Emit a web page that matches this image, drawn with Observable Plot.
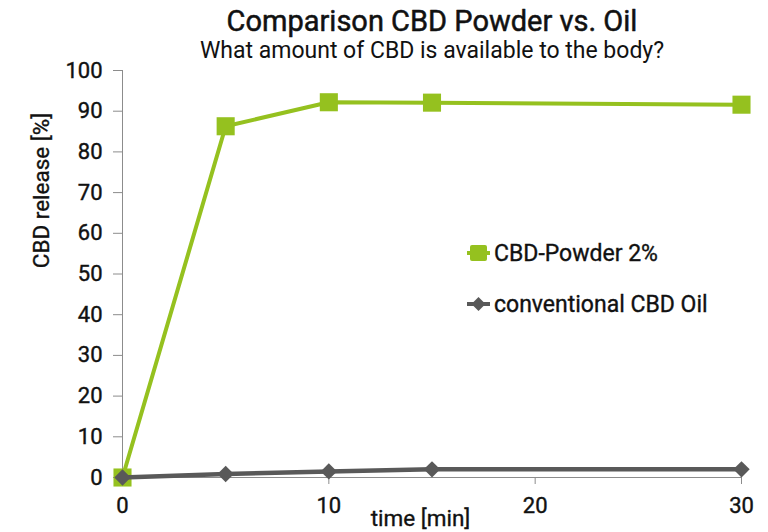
<!DOCTYPE html>
<html>
<head>
<meta charset="utf-8">
<script src="https://cdn.jsdelivr.net/npm/d3@7"></script>
<script src="https://cdn.jsdelivr.net/npm/@observablehq/plot@0.6"></script>
<style>
  html, body { margin: 0; padding: 0; background: #fff; }
  #wrap { position: relative; width: 768px; height: 532px; font-family: Roboto, "Liberation Sans", sans-serif; }
  #wrap svg g[aria-label$="tick label"] text { stroke: #111; stroke-width: 0.4px; paint-order: stroke; }
  .leg { position: absolute; display: flex; align-items: center; font-size: 23px; font-weight: 400; color: #111; white-space: nowrap; -webkit-text-stroke: 0.35px #111; }
  .leg svg { margin-right: 3px; }
</style>
</head>
<body>
<div id="wrap"></div>
<script>
const times = [0, 5, 10, 15, 30];
const powderValues = [0, 86.3, 92.2, 92.1, 91.6];
const oilValues = [0, 0.85, 1.5, 2.0, 2.0];
const seriesNames = ["CBD-Powder 2%", "conventional CBD Oil"];
const seriesColors = ["#95c11f", "#595959"];
const xTicks = [0, 10, 20, 30];
const yTicks = [0, 10, 20, 30, 40, 50, 60, 70, 80, 90, 100];
const titleText = "Comparison CBD Powder vs. Oil";
const subtitleText = "What amount of CBD is available to the body?";
const xLabel = "time [min]";
const yLabel = "CBD release [%]";

const powder = times.map((t, i) => ({t, v: powderValues[i]}));
const oil = times.map((t, i) => ({t, v: oilValues[i]}));

const font = "Roboto, 'Liberation Sans', sans-serif";
const ink = "#111";

const chart = Plot.plot({
  width: 768,
  height: 532,
  marginLeft: 122,
  marginRight: 27,
  marginTop: 70,
  marginBottom: 55,
  style: {fontFamily: font, background: "#fff", overflow: "visible"},
  x: {domain: [0, 30]},
  y: {domain: [0, 100]},
  marks: [
    Plot.ruleY([0], {stroke: "#8c8c8c", strokeWidth: 1}),
    Plot.ruleX([0], {stroke: "#8c8c8c", strokeWidth: 1}),
    Plot.axisX({ticks: xTicks, tickSize: 7, tickPadding: 13, label: null, stroke: "#8c8c8c", fill: ink, fontSize: 22, fontWeight: 400}),
    Plot.axisY({ticks: yTicks, tickSize: 9, tickPadding: 11, label: null, stroke: "#8c8c8c", fill: ink, fontSize: 22, fontWeight: 400}),
    Plot.line(powder, {x: "t", y: "v", stroke: seriesColors[0], strokeWidth: 4}),
    Plot.dot(powder, {x: "t", y: "v", symbol: "square", r: 10.2, fill: seriesColors[0], stroke: "none"}),
    Plot.line(oil, {x: "t", y: "v", stroke: seriesColors[1], strokeWidth: 4.5}),
    Plot.dot(oil, {x: "t", y: "v", symbol: "diamond2", r: 7.4, fill: seriesColors[1], stroke: "none"}),
    Plot.text([titleText], {frameAnchor: "top", text: d => d, textAnchor: "middle", dy: -49, fontSize: 29, fill: ink, stroke: ink, strokeWidth: 0.5, paintOrder: "stroke", lineAnchor: "middle"}),
    Plot.text([subtitleText], {frameAnchor: "top", text: d => d, textAnchor: "middle", dy: -20, fontSize: 23, fill: ink, lineAnchor: "middle"}),
    Plot.text([xLabel], {frameAnchor: "bottom-left", text: d => d, textAnchor: "middle", dx: 298, dy: 41, fontSize: 22.5, fill: ink, stroke: ink, strokeWidth: 0.35, paintOrder: "stroke", lineAnchor: "middle"}),
    Plot.text([yLabel], {frameAnchor: "top-left", text: d => d, textAnchor: "middle", dx: -81, dy: 120, rotate: -90, fontSize: 22.5, fill: ink, stroke: ink, strokeWidth: 0.35, paintOrder: "stroke", lineAnchor: "middle"})
  ]
});
const wrap = document.getElementById("wrap");
wrap.appendChild(chart);

// legend
const legendTops = [253, 304];
seriesNames.forEach((name, i) => {
  const d = document.createElement("div");
  d.className = "leg";
  d.style.left = "466px";
  d.style.top = (legendTops[i] - 14) + "px";
  d.style.height = "28px";
  const sym = i === 0
    ? `<rect x="4" y="3" width="17" height="16" rx="2" fill="${seriesColors[0]}"/>`
    : `<path d="M12.5 4 L19.5 11 L12.5 18 L5.5 11 Z" fill="${seriesColors[1]}"/>`;
  d.innerHTML = `<svg width="25" height="22" viewBox="0 0 25 22"><line x1="1" y1="11" x2="24" y2="11" stroke="${seriesColors[i]}" stroke-width="4"/>${sym}</svg><span>${name}</span>`;
  wrap.appendChild(d);
});
</script>
</body>
</html>
